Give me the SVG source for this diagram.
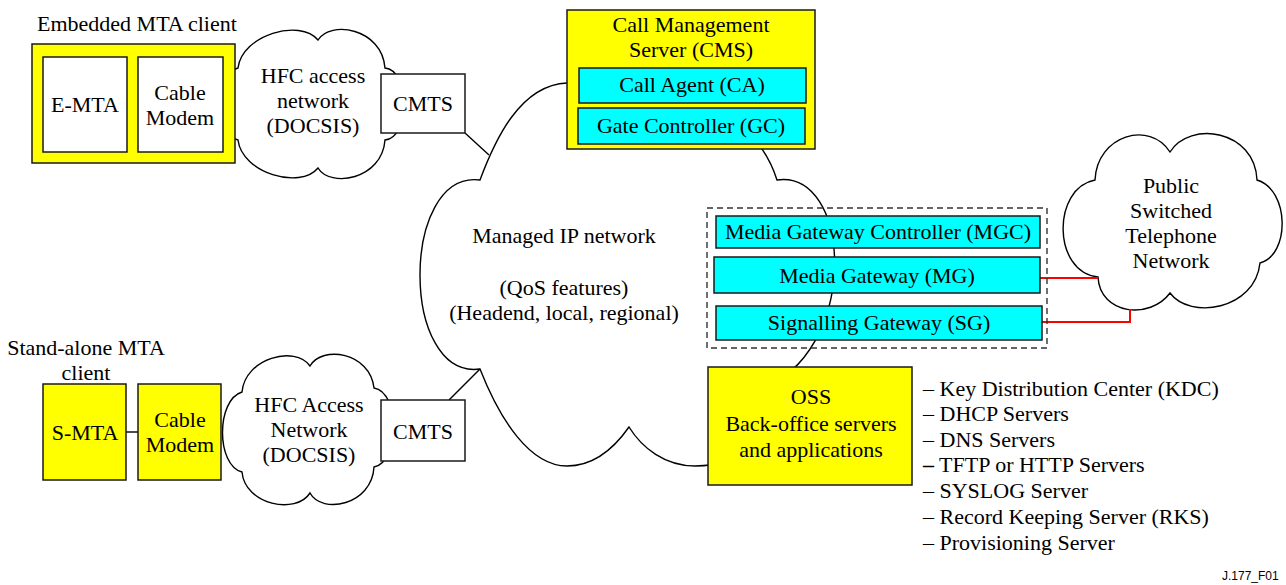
<svg xmlns="http://www.w3.org/2000/svg" width="1286" height="585" viewBox="0 0 1286 585">
  <style>
    text { font-family: "Liberation Serif", "Times New Roman", serif; font-size: 22px; fill: #000; }
    .c { text-anchor: middle; }
    .box { stroke: #1a1a1a; stroke-width: 1.5; }
    .white { fill: #ffffff; }
    .yellow { fill: #ffff00; }
    .cyan { fill: #00ffff; }
    .cloud { fill: #ffffff; stroke: #000; stroke-width: 1.4; }
    .link { fill: none; stroke: #000; stroke-width: 1.4; }
    .red { fill: none; stroke: #ff0000; stroke-width: 2; }
    .dash { fill: none; stroke: #333; stroke-width: 1.4; stroke-dasharray: 6 4; }
    .tag { font-family: "Liberation Sans", Arial, sans-serif; font-size: 12px; }
  </style>

  <!-- network clouds -->
  <g id="managed-ip-network">
    <path class="cloud" d="M 480,180 C 495,140 520,85 567,83 C 680,82 755,110 777,180 C 850,170 860,340 770,385 C 775,440 740,466 695,466 C 665,466 642,448 629,427 C 615,447 595,466 567,466 C 530,466 500,420 480,369 C 400,380 400,170 480,180 Z"/>
    <text class="c" x="564" y="243">Managed IP network</text>
    <text class="c" x="564" y="295">(QoS features)</text>
    <text class="c" x="564" y="320">(Headend, local, regional)</text>
  </g>

  <g id="hfc-access-top">
    <path class="cloud" d="M 238,68 C 242,35 300,18 318,40 C 330,20 382,28 385,68 C 410,70 410,138 385,140 C 382,180 330,188 318,168 C 300,190 242,173 238,140 C 215,135 215,73 238,68 Z"/>
    <text class="c" x="313" y="83">HFC access</text>
    <text class="c" x="313" y="108">network</text>
    <text class="c" x="313" y="133">(DOCSIS)</text>
  </g>

  <g id="hfc-access-bottom">
    <path class="cloud" d="M 242,392 C 245,358 295,345 310,366 C 322,345 370,352 374,388 C 400,392 400,462 374,467 C 372,505 322,515 310,493 C 296,515 245,505 242,472 C 216,465 216,400 242,392 Z"/>
    <text class="c" x="309" y="412">HFC Access</text>
    <text class="c" x="309" y="437">Network</text>
    <text class="c" x="309" y="462">(DOCSIS)</text>
  </g>

  <g id="pstn">
    <path class="cloud" d="M 1095,180 C 1097,135 1150,120 1170,152 C 1190,120 1255,130 1257,180 C 1290,190 1290,255 1260,263 C 1255,310 1190,320 1170,293 C 1150,320 1100,315 1098,277 C 1052,272 1052,188 1095,180 Z"/>
    <text class="c" x="1171" y="193">Public</text>
    <text class="c" x="1171" y="218">Switched</text>
    <text class="c" x="1171" y="243">Telephone</text>
    <text class="c" x="1171" y="268">Network</text>
  </g>

  <!-- connectors -->
  <g id="connectors">
    <line class="link" x1="465" y1="133" x2="489" y2="155"/>
    <line class="link" x1="449" y1="400" x2="480" y2="369"/>
    <line class="link" x1="126" y1="432" x2="138" y2="432"/>
    <polyline class="red" points="1040,278 1098,278"/>
    <polyline class="red" points="1042,322 1130,322 1130,309"/>
  </g>

  <!-- embedded MTA client -->
  <g id="embedded-mta">
    <text x="37" y="31">Embedded MTA client</text>
    <rect class="box yellow" x="32" y="44" width="203" height="119"/>
    <rect class="box white" x="43" y="57" width="84" height="95"/>
    <text class="c" x="85" y="112">E-MTA</text>
    <rect class="box white" x="138" y="57" width="85" height="95"/>
    <text class="c" x="180" y="100">Cable</text>
    <text class="c" x="180" y="125">Modem</text>
  </g>

  <g id="cmts-top">
    <rect class="box white" x="381" y="74" width="84" height="59"/>
    <text class="c" x="423" y="111">CMTS</text>
  </g>

  <!-- stand-alone MTA client -->
  <g id="standalone-mta">
    <text class="c" x="86" y="355">Stand-alone MTA</text>
    <text class="c" x="86" y="380">client</text>
    <rect class="box yellow" x="43" y="384" width="83" height="96"/>
    <text class="c" x="85" y="440">S-MTA</text>
    <rect class="box yellow" x="138" y="384" width="83" height="96"/>
    <text class="c" x="180" y="427">Cable</text>
    <text class="c" x="180" y="452">Modem</text>
  </g>

  <g id="cmts-bottom">
    <rect class="box white" x="381" y="400" width="84" height="61"/>
    <text class="c" x="423" y="439">CMTS</text>
  </g>

  <!-- call management server -->
  <g id="cms">
    <rect class="box yellow" x="567" y="10" width="248" height="139"/>
    <text class="c" x="691" y="32">Call Management</text>
    <text class="c" x="691" y="57">Server (CMS)</text>
    <rect class="box cyan" x="579" y="68" width="227" height="35"/>
    <text class="c" x="692" y="92">Call Agent (CA)</text>
    <rect class="box cyan" x="578" y="108" width="227" height="36"/>
    <text class="c" x="691" y="133">Gate Controller (GC)</text>
  </g>

  <!-- gateway group -->
  <g id="gateways">
    <rect class="dash" x="707" y="208" width="340" height="140"/>
    <g id="mgc">
      <rect class="box cyan" x="716" y="216" width="324" height="32"/>
      <text class="c" x="878" y="239">Media Gateway Controller (MGC)</text>
    </g>
    <g id="mg">
      <rect class="box cyan" x="714" y="257" width="326" height="36"/>
      <text class="c" x="877" y="283">Media Gateway (MG)</text>
    </g>
    <g id="sg">
      <rect class="box cyan" x="716" y="306" width="326" height="34"/>
      <text class="c" x="879" y="330">Signalling Gateway (SG)</text>
    </g>
  </g>

  <!-- operations support -->
  <g id="oss">
    <rect class="box yellow" x="708" y="367" width="204" height="118"/>
    <text class="c" x="811" y="404">OSS</text>
    <text class="c" x="811" y="431">Back-office servers</text>
    <text class="c" x="811" y="457">and applications</text>
  </g>

  <g id="oss-list">
    <text x="923" y="396">– Key Distribution Center (KDC)</text>
    <text x="923" y="421">– DHCP Servers</text>
    <text x="923" y="447">– DNS Servers</text>
    <text x="923" y="472"><tspan font-weight="bold">–</tspan> TFTP or HTTP Servers</text>
    <text x="923" y="498">– SYSLOG Server</text>
    <text x="923" y="524">– Record Keeping Server (RKS)</text>
    <text x="923" y="550">– Provisioning Server</text>
  </g>

  <text class="tag" x="1222" y="580">J.177_F01</text>
</svg>
